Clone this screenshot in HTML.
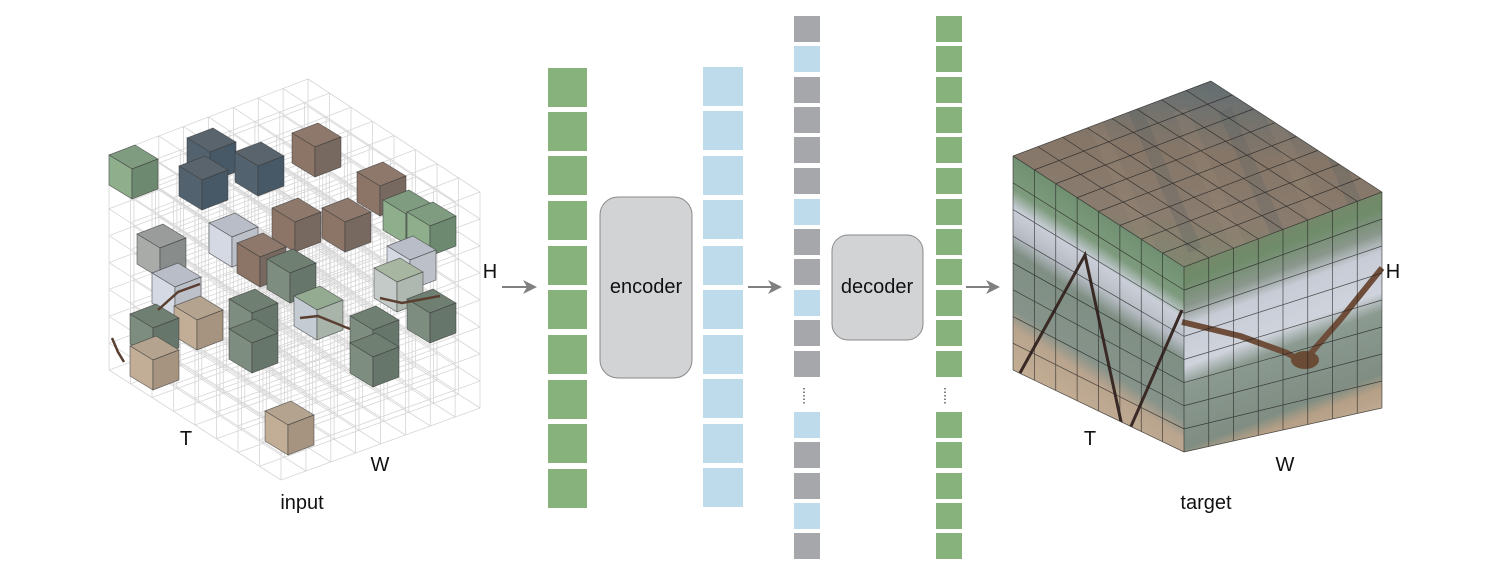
<!DOCTYPE html>
<html><head><meta charset="utf-8"><style>
html,body{margin:0;padding:0;background:#fff;}
svg{display:block;}
text{font-family:"Liberation Sans",Arial,sans-serif;}
</style></head><body>
<svg id="s" width="1505" height="584" viewBox="0 0 1505 584" xmlns="http://www.w3.org/2000/svg">
<defs>
<linearGradient id="gL" x1="0" y1="0" x2="0" y2="1">
<stop offset="0" stop-color="#6a8a6c"/><stop offset="0.22" stop-color="#7d9a7c"/>
<stop offset="0.3" stop-color="#c9ced8"/><stop offset="0.4" stop-color="#b7bcc4"/>
<stop offset="0.48" stop-color="#7f8f84"/><stop offset="0.72" stop-color="#86938a"/>
<stop offset="0.8" stop-color="#b9a48e"/><stop offset="1" stop-color="#c4ae95"/>
</linearGradient>
<linearGradient id="gR" x1="0" y1="0" x2="0" y2="1">
<stop offset="0" stop-color="#7a8468"/><stop offset="0.15" stop-color="#6f8c6a"/>
<stop offset="0.25" stop-color="#8a978c"/><stop offset="0.33" stop-color="#c8ccd6"/>
<stop offset="0.5" stop-color="#cfd3dc"/><stop offset="0.58" stop-color="#8b9a90"/>
<stop offset="0.84" stop-color="#7f8d83"/><stop offset="0.9" stop-color="#b59f86"/>
<stop offset="1" stop-color="#c0ab93"/>
</linearGradient>
<linearGradient id="gT" x1="0" y1="0" x2="1" y2="1">
<stop offset="0" stop-color="#7d8a72"/><stop offset="0.3" stop-color="#8a7c6e"/>
<stop offset="0.6" stop-color="#857668"/><stop offset="0.85" stop-color="#6a7070"/>
<stop offset="1" stop-color="#5e6a72"/>
</linearGradient>
</defs>
<g id="inp"></g>
<g id="tgt"></g>
<g id="mid"></g>
<g font-size="20" fill="#111">
<text x="186" y="445" text-anchor="middle">T</text>
<text x="380" y="471" text-anchor="middle">W</text>
<text x="490" y="278" text-anchor="middle">H</text>
<text x="302" y="509" text-anchor="middle">input</text>
<text x="1090" y="445" text-anchor="middle">T</text>
<text x="1285" y="471" text-anchor="middle">W</text>
<text x="1393" y="278" text-anchor="middle">H</text>
<text x="1206" y="509" text-anchor="middle">target</text>
</g>
</svg>
<script>
var NS="http://www.w3.org/2000/svg";
function el(p,tag,a){var e=document.createElementNS(NS,tag);for(var k in a)e.setAttribute(k,a[k]);p.appendChild(e);return e;}
var inp=document.getElementById('inp'),tgt=document.getElementById('tgt'),mid=document.getElementById('mid');
function PI(t,w,h){return [281+t*(109-281)+w*(480-281), 268+t*(155-268)+w*(192-268)+h*(212+3*t+4*w)];}
var d="";
for(var i=0;i<=8;i++)for(var j=0;j<=8;j++){
 var a=i/8,b=j/8,p,q;
 p=PI(0,a,b);q=PI(1,a,b);d+="M"+p[0].toFixed(1)+" "+p[1].toFixed(1)+"L"+q[0].toFixed(1)+" "+q[1].toFixed(1);
 p=PI(a,0,b);q=PI(a,1,b);d+="M"+p[0].toFixed(1)+" "+p[1].toFixed(1)+"L"+q[0].toFixed(1)+" "+q[1].toFixed(1);
 p=PI(a,b,0);q=PI(a,b,1);d+="M"+p[0].toFixed(1)+" "+p[1].toFixed(1)+"L"+q[0].toFixed(1)+" "+q[1].toFixed(1);
}
el(inp,'path',{d:d,stroke:'#d6d6d6','stroke-width':'0.8',fill:'none'});
var pal={
 g:['#7f9c80','#8fae8c','#6d8a70'], b:['#5a646c','#52626e','#475866'],
 br:['#8e786b','#8c7467','#776860'], s:['#b9bdc7','#d5d9e3','#bcc0c9'],
 gr:['#9a9c9c','#a9aba9','#888c8b'], t:['#b4a48f','#c2ad96','#a69480'],
 dg:['#6f7f72','#7d8d7f','#66766a'], lg:['#a6b6a0','#c4cac8','#aeb8b0'], gs:['#94ab92','#c5cbd3','#a8b4aa']};
var TT=[-23,-14],WW=[26,-10],DD=30;
function cube(x,y,c){var P=pal[c];
 function pt(a){return a.map(function(v){return v[0].toFixed(1)+","+v[1].toFixed(1)}).join(" ");}
 var A=[x,y],B=[x+TT[0],y+TT[1]],C=[x+TT[0]+WW[0],y+TT[1]+WW[1]],E=[x+WW[0],y+WW[1]];
 var st={stroke:'#3a3a3a','stroke-width':'0.7','stroke-opacity':'0.7'};
 el(inp,'polygon',Object.assign({points:pt([A,B,C,E]),fill:P[0]},st));
 el(inp,'polygon',Object.assign({points:pt([A,B,[B[0],B[1]+DD],[x,y+DD]]),fill:P[1]},st));
 el(inp,'polygon',Object.assign({points:pt([A,E,[E[0],E[1]+DD],[x,y+DD]]),fill:P[2]},st));
}
var cubes=[[315,147,'br'],[210,152,'b'],[258,166,'b'],[132,169,'g'],[202,180,'b'],[380,186,'br'],
[406,214,'g'],[430,226,'g'],[295,222,'br'],[345,222,'br'],[232,237,'s'],[160,248,'gr'],[260,257,'br'],
[410,260,'s'],[290,273,'dg'],[397,282,'lg'],[175,287,'s'],[317,310,'gs'],[252,313,'dg'],[430,313,'dg'],
[197,320,'t'],[153,328,'dg'],[373,330,'dg'],[252,343,'dg'],[373,357,'dg'],[153,360,'t'],[288,425,'t']];
cubes.forEach(function(c){cube(c[0],c[1],c[2]);});
el(inp,'path',{d:"M112 338 L118 352 L124 362 M158 310 L178 292 L200 284 M300 318 L318 316 L350 329 M380 298 L402 303 L440 296",stroke:'#5a3f30','stroke-width':'2.5',fill:'none'});
function PT(t,w,h){return [1184+t*(1013-1184)+w*(1382-1184), 267+t*(156-267)+w*(192-267)+h*(185+29*t+31*w)];}
function quad(a,b,c,e){return "M"+[a,b,c,e].map(function(v){return v[0].toFixed(1)+" "+v[1].toFixed(1)}).join("L")+"Z";}
var defs=document.querySelector('defs');
function face(id,q,grad,m){var cp=el(defs,'clipPath',{id:id});el(cp,'path',{d:q});
 var g=el(tgt,'g',{'clip-path':'url(#'+id+')'});var gg=el(g,'g',{transform:m});
 el(gg,'rect',{x:-0.1,y:-0.1,width:1.2,height:1.2,fill:'url(#'+grad+')'});return g;}
var qL=quad(PT(1,0,0),PT(0,0,0),PT(0,0,1),PT(1,0,1));
var qR=quad(PT(0,0,0),PT(0,1,0),PT(0,1,1),PT(0,0,1));
var qT=quad(PT(0,0,0),PT(1,0,0),PT(1,1,0),PT(0,1,0));
face('cL',qL,'gL','matrix(171,111,0,200,1013,156)');
face('cR',qR,'gR','matrix(198,-75,0,200,1184,267)');
face('cT',qT,'gT','matrix(198,-75,-171,-111,1184,267)');
var gT=el(tgt,'g',{'clip-path':'url(#cT)',opacity:'0.2'});
for(var k=0;k<6;k++){el(gT,'path',{d:"M"+(1090+k*45)+" 110 L"+(1150+k*45)+" 250",stroke:k%2?'#4d5a62':'#a08a78','stroke-width':'14',fill:'none'});}
el(tgt,'path',{d:"M1020 373 L1085 255 L1125 440 L1182 310",stroke:'#3a2a25','stroke-width':'3',fill:'none','clip-path':'url(#cL)'});
el(tgt,'path',{d:"M1182 322 L1240 336 L1287 353 L1303 362 L1340 320 L1382 268",stroke:'#6e4e3a','stroke-width':'6',fill:'none','stroke-linejoin':'round'});
el(tgt,'ellipse',{cx:1305,cy:360,rx:14,ry:9,fill:'#6a4c36'});
var gd="";
for(var i=0;i<=8;i++){var a=i/8,p,q;
 p=PT(a,0,0);q=PT(a,0,1);gd+="M"+p+"L"+q; p=PT(0,0,a);q=PT(1,0,a);gd+="M"+p+"L"+q;
 p=PT(0,a,0);q=PT(0,a,1);gd+="M"+p+"L"+q; p=PT(0,0,a);q=PT(0,1,a);gd+="M"+p+"L"+q;
 p=PT(a,0,0);q=PT(a,1,0);gd+="M"+p+"L"+q; p=PT(0,a,0);q=PT(1,a,0);gd+="M"+p+"L"+q;}
el(tgt,'path',{d:gd.replace(/,/g,' '),stroke:'#1e1e1e','stroke-width':'0.7','stroke-opacity':'0.75',fill:'none'});
var G='#88b27b',B='#bddbeb',Y='#a6a7ab';
[68,112,156,201,246,290,335,380,424,469].forEach(function(y){el(mid,'rect',{x:548,y:y,width:39,height:39,fill:G});});
[67,111,156,200,246,290,335,379,424,468].forEach(function(y){el(mid,'rect',{x:703,y:y,width:40,height:39,fill:B});});
var rows=[16,46,77,107,137,168,199,229,259,290,320,351,412,442,473,503,533];
var cols=[Y,B,Y,Y,Y,Y,B,Y,Y,B,Y,Y,B,Y,Y,B,Y];
rows.forEach(function(y,i){el(mid,'rect',{x:794,y:y,width:26,height:26,fill:cols[i]});el(mid,'rect',{x:936,y:y,width:26,height:26,fill:G});});
[804,945].forEach(function(x){el(mid,'line',{x1:x,y1:388,x2:x,y2:404,stroke:'#333','stroke-width':'1.2','stroke-dasharray':'1.5 2'});});
el(mid,'rect',{x:600,y:197,width:92,height:181,rx:18,fill:'#d1d3d5',stroke:'#8a8a8a','stroke-width':'1'});
el(mid,'rect',{x:832,y:235,width:91,height:105,rx:16,fill:'#d1d3d5',stroke:'#8a8a8a','stroke-width':'1'});
var t1=el(mid,'text',{x:646,y:293,'text-anchor':'middle','font-size':'20',fill:'#111'});t1.textContent='encoder';
var t2=el(mid,'text',{x:877,y:293,'text-anchor':'middle','font-size':'20',fill:'#111'});t2.textContent='decoder';
[[502,537],[748,782],[966,1000]].forEach(function(a){
 el(mid,'line',{x1:a[0],y1:287,x2:a[1]-8,y2:287,stroke:'#808080','stroke-width':'2'});
 el(mid,'polygon',{points:(a[1])+",287 "+(a[1]-14)+",280 "+(a[1]-10)+",287 "+(a[1]-14)+",294",fill:'#808080'});});
</script>
</body></html>
